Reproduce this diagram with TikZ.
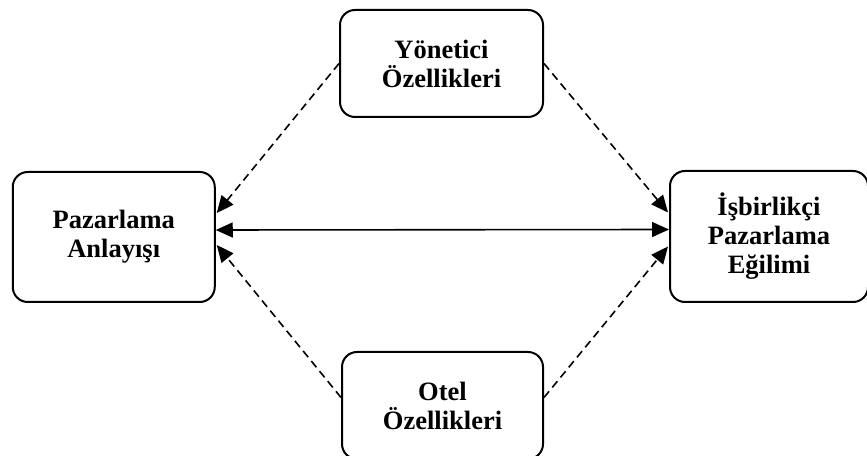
\documentclass[tikz,border=0pt]{standalone}
\usepackage{fontspec}
\setmainfont{Liberation Serif}
\usetikzlibrary{arrows.meta,calc}
\begin{document}
\begin{tikzpicture}[x=1pt,y=1pt,
  box/.style={draw, line width=2pt, rounded corners=15pt, align=center,
    font=\fontsize{26.5}{29}\selectfont\bfseries, inner sep=0pt},
  link/.style={line width=1.6pt, -{Triangle[length=17pt,width=15pt]}},
  dlink/.style={link, dash pattern=on 8pt off 5pt},
  both/.style={line width=1.6pt, {Triangle[length=17pt,width=15pt]}-{Triangle[length=17pt,width=15pt]}}]
\useasboundingbox (0,0) rectangle (867,455);
% four concept boxes
\node[box, minimum width=202pt, minimum height=130pt] (L) at (113.75,218) {Pazarlama\\Anlayışı};
\node[box, minimum width=203pt, minimum height=107pt] (T) at (441.5,391.5) {Yönetici\\Özellikleri};
\node[box, minimum width=198pt, minimum height=131pt] (R) at (769,218.5) {İşbirlikçi\\Pazarlama\\Eğilimi};
\node[box, minimum width=201pt, minimum height=107pt] (B) at (442.5,49.5) {Otel\\Özellikleri};
% relations
\draw[both] ($(L.east)+(0,7)$) -- ($(R.west)+(0,7)$);
\draw[dlink] (T.west) -- ($(L.east)+(1,24)$);
\draw[dlink] ($(B.west)+(0,8)$) -- ($(L.east)+(1,-8)$);
\draw[dlink] (T.east) -- ($(R.west)+(-1,24)$);
\draw[dlink] ($(B.east)+(0,8)$) -- ($(R.west)+(-1,-10)$);
\end{tikzpicture}
\end{document}
